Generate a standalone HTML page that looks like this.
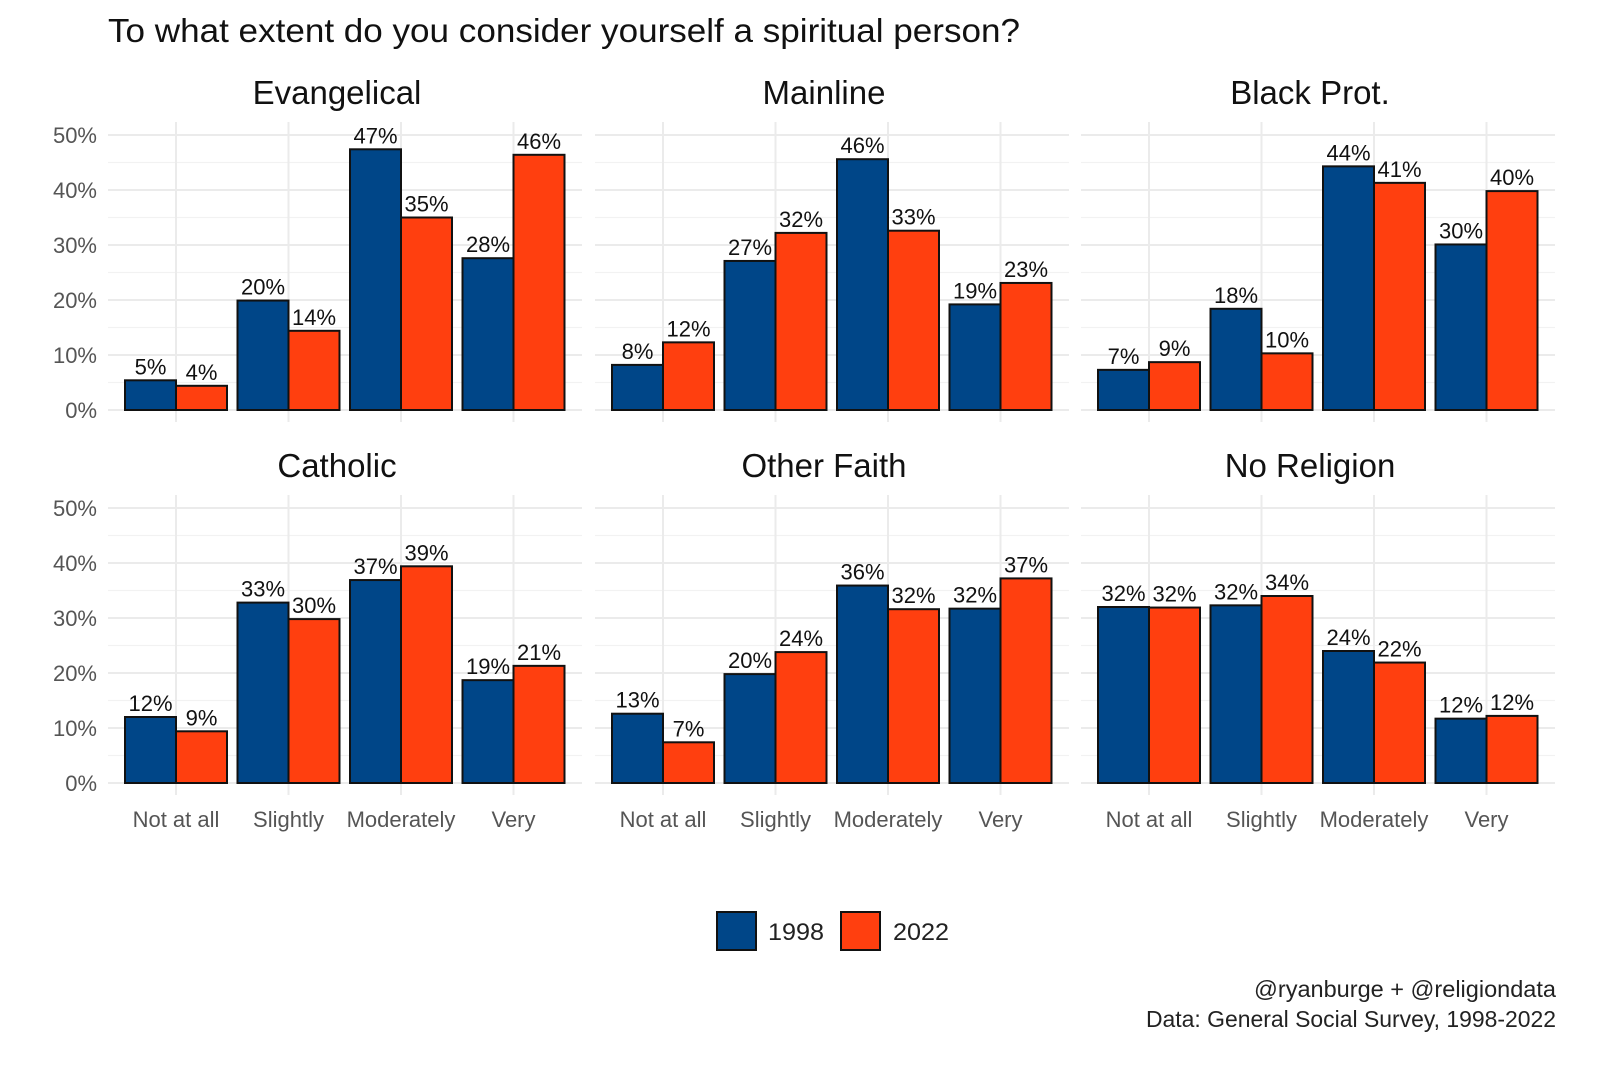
<!DOCTYPE html>
<html><head><meta charset="utf-8">
<style>
html,body{margin:0;padding:0;background:#fff;}
svg{display:block;}
text{font-family:"Liberation Sans",sans-serif;}
</style></head>
<body>
<svg id="chart" width="1600" height="1066" viewBox="0 0 1600 1066" xmlns="http://www.w3.org/2000/svg">
<text x="108" y="42" font-size="33" fill="#111" textLength="912" lengthAdjust="spacingAndGlyphs">To what extent do you consider yourself a spiritual person?</text>
<g id="panels"></g>
<g>
<rect x="717" y="912" width="39" height="38" fill="#004688" stroke="#111" stroke-width="2"/>
<text x="768" y="940" font-size="24" fill="#222" textLength="56" lengthAdjust="spacingAndGlyphs">1998</text>
<rect x="841" y="912" width="39" height="38" fill="#ff3f0f" stroke="#111" stroke-width="2"/>
<text x="893" y="940" font-size="24" fill="#222" textLength="56" lengthAdjust="spacingAndGlyphs">2022</text>
</g>
<text x="1556" y="997" font-size="23" fill="#222" text-anchor="end" textLength="302" lengthAdjust="spacingAndGlyphs">@ryanburge + @religiondata</text>
<text x="1556" y="1027" font-size="23" fill="#222" text-anchor="end" textLength="410" lengthAdjust="spacingAndGlyphs">Data: General Social Survey, 1998-2022</text>
</svg>
<script>
const categories = ["Not at all","Slightly","Moderately","Very"];
const panelNames = ["Evangelical","Mainline","Black Prot.","Catholic","Other Faith","No Religion"];
const series1998 = [
 [5.4,19.9,47.4,27.6],
 [8.2,27.1,45.6,19.2],
 [7.3,18.4,44.3,30.1],
 [12.0,32.8,36.9,18.7],
 [12.6,19.8,35.9,31.7],
 [32.0,32.3,24.0,11.7]
];
const series2022 = [
 [4.4,14.4,35.0,46.4],
 [12.3,32.2,32.6,23.1],
 [8.7,10.3,41.3,39.8],
 [9.4,29.8,39.4,21.3],
 [7.4,23.8,31.6,37.2],
 [31.9,34.0,21.9,12.2]
];
const yTicks = [0,10,20,30,40,50];

const NS = "http://www.w3.org/2000/svg";
const root = document.getElementById("panels");
function mk(tag, attrs, parent){
  const e = document.createElementNS(NS, tag);
  for (const k in attrs) e.setAttribute(k, attrs[k]);
  parent.appendChild(e); return e;
}
const panelLeft = [108, 595, 1081];
const panelW = 474;
const rowBase = [410, 783];
const pxPerPct = 5.5;
const catStep = 112.5, barW = 51;
const colors = ["#004688", "#ff3f0f"];

panelNames.forEach((name, p) => {
  const col = p % 3, row = Math.floor(p / 3);
  const x0 = panelLeft[col], base = rowBase[row];
  const yS = v => base - v * pxPerPct;
  const xC = i => x0 + 68 + i * catStep;
  const g = mk("g", {}, root);
  
  
  for (let v = 5; v <= 45; v += 10) {
    mk("line", {x1:x0, x2:x0+panelW, y1:yS(v), y2:yS(v), stroke:"#f2f2f2", "stroke-width":1.2}, g);
  }
  yTicks.forEach(v => {
    mk("line", {x1:x0, x2:x0+panelW, y1:yS(v), y2:yS(v), stroke:"#ebebeb", "stroke-width":2}, g);
  });
  categories.forEach((c, i) => {
    mk("line", {x1:xC(i), x2:xC(i), y1:base-288, y2:base+12, stroke:"#ebebeb", "stroke-width":2}, g);
  });
  if (col === 0) {
    yTicks.forEach(v => {
      const t = mk("text", {x:97, y:yS(v)+8, "font-size":22, fill:"#555", "text-anchor":"end"}, root);
      
      
      t.textContent = v + "%";
    });
  }
  const ft = mk("text", {x:x0+panelW/2 - 8, y:base-306, "font-size":33, fill:"#111", "text-anchor":"middle"}, g);
  
  
  ft.textContent = name;
  [series1998[p], series2022[p]].forEach((vals, s) => {
    vals.forEach((v, i) => {
      const bx = xC(i) - barW + s * barW;
      const r = mk("rect", {x:bx, y:yS(v), width:barW, height:v*pxPerPct, fill:colors[s], stroke:"#111", "stroke-width":2}, g);
      
      
      const lt = mk("text", {x:bx+barW/2, y:yS(v)-6, "font-size":22, fill:"#111", "text-anchor":"middle"}, g);
      
      
      lt.textContent = Math.round(v) + "%";
    });
  });
  if (row === 1) {
    categories.forEach((c, i) => {
      const t = mk("text", {x:xC(i), y:827, "font-size":22, fill:"#555", "text-anchor":"middle"}, g);
      
      
      t.textContent = c;
    });
  }
});
</script>
</body></html>
